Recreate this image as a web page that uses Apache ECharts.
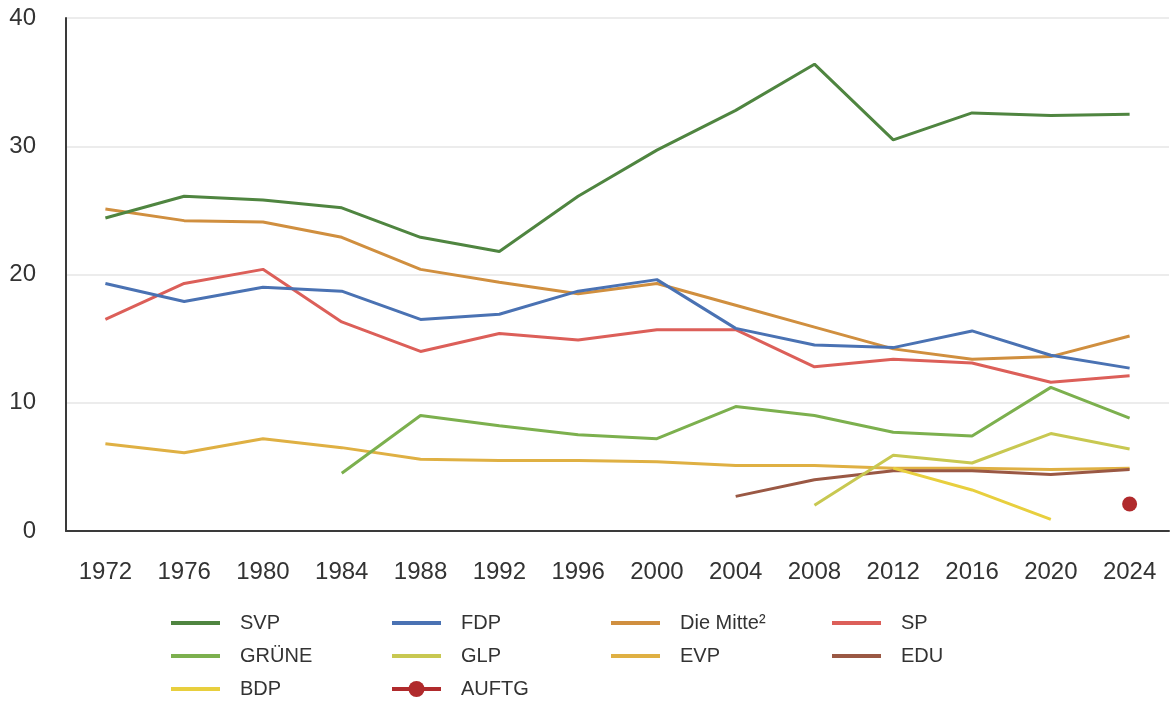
<!DOCTYPE html>
<html>
<head>
<meta charset="utf-8">
<script src="https://cdn.jsdelivr.net/npm/echarts@6/dist/echarts.min.js"></script>
<style>html,body{margin:0;padding:0;background:#fff}#c{width:1174px;height:702px}</style>
</head>
<body>
<div id="c"></div>
<script>
const years = ['1972','1976','1980','1984','1988','1992','1996','2000','2004','2008','2012','2016','2020','2024'];
const yTicks = [0, 10, 20, 30, 40];
const SVP   = [24.4, 26.1, 25.8, 25.2, 22.9, 21.8, 26.1, 29.7, 32.8, 36.4, 30.5, 32.6, 32.4, 32.5];
const FDP   = [19.3, 17.9, 19.0, 18.7, 16.5, 16.9, 18.7, 19.6, 15.8, 14.5, 14.3, 15.6, 13.7, 12.7];
const MITTE = [25.1, 24.2, 24.1, 22.9, 20.4, 19.4, 18.5, 19.3, 17.6, 15.9, 14.2, 13.4, 13.6, 15.2];
const SP    = [16.5, 19.3, 20.4, 16.3, 14.0, 15.4, 14.9, 15.7, 15.7, 12.8, 13.4, 13.1, 11.6, 12.1];
const GRUENE= [null, null, null, 4.5, 9.0, 8.2, 7.5, 7.2, 9.7, 9.0, 7.7, 7.4, 11.2, 8.8];
const GLP   = [null, null, null, null, null, null, null, null, null, 2.0, 5.9, 5.3, 7.6, 6.4];
const EVP   = [6.8, 6.1, 7.2, 6.5, 5.6, 5.5, 5.5, 5.4, 5.1, 5.1, 4.9, 4.9, 4.8, 4.9];
const EDU   = [null, null, null, null, null, null, null, null, 2.7, 4.0, 4.7, 4.7, 4.4, 4.8];
const BDP   = [null, null, null, null, null, null, null, null, null, null, 4.9, 3.2, 0.9, null];
const AUFTG = [null, null, null, null, null, null, null, null, null, null, null, null, null, 2.1];

const colors = {
  'SVP':'#4f8540', 'FDP':'#4a72b3', 'Die Mitte²':'#d08f3f', 'SP':'#dc5f59',
  'GRÜNE':'#7cb04e', 'GLP':'#c8c851', 'EVP':'#dfb043', 'EDU':'#9a5844',
  'BDP':'#e8cf3e', 'AUFTG':'#b02a2c'
};
const FONT = 'Liberation Sans, Arial, sans-serif';
function line(name, data) {
  return { name, type:'line', data, symbol:'none', connectNulls:false,
    lineStyle:{ width:3, color: colors[name] }, itemStyle:{ color: colors[name] },
    emphasis:{ disabled:true }, z: 2 };
}
const series = [
  line('EVP', EVP), line('EDU', EDU), line('BDP', BDP), line('GLP', GLP), line('GRÜNE', GRUENE),
  line('SP', SP), line('Die Mitte²', MITTE), line('FDP', FDP), line('SVP', SVP),
  { name:'AUFTG', type:'line', data:AUFTG, symbol:'circle', symbolSize:15,
    lineStyle:{ width:3, color: colors['AUFTG'] }, itemStyle:{ color: colors['AUFTG'] }, emphasis:{disabled:true} }
];
function legItem(name) {
  if (name === 'AUFTG') return { name };
  return { name, itemStyle:{ opacity:0 } };
}
function legend(left, names) {
  return {
    orient:'vertical', top:613, left, height:100, padding:0,
    itemWidth:49, itemHeight:20, itemGap:13, selectedMode:false,
    lineStyle:{ width:4 },
    textStyle:{ fontSize:20, color:'#333', fontFamily:FONT, padding:[0,0,0,15] },
    data: names.map(legItem)
  };
}
const chart = echarts.init(document.getElementById('c'));
chart.setOption({
  animation:false,
  grid:{ left:66, right:5, top:18, bottom:171 },
  xAxis:{ type:'category', data: years, boundaryGap:true,
    axisLine:{ lineStyle:{ color:'#3a3a3a', width:2 } }, axisTick:{ show:false },
    axisLabel:{ fontSize:24, color:'#333', margin:29, fontFamily:FONT } },
  yAxis:{ type:'value', min:yTicks[0], max:yTicks[yTicks.length-1], interval:10,
    axisLine:{ show:true, lineStyle:{ color:'#3a3a3a', width:2 } }, axisTick:{ show:false },
    splitLine:{ lineStyle:{ color:'#e6e6e6', width:1.5 } },
    axisLabel:{ fontSize:24, color:'#333', margin:30, fontFamily:FONT } },
  legend:[
    legend(169, ['SVP','GRÜNE','BDP']),
    legend(390, ['FDP','GLP','AUFTG']),
    legend(609, ['Die Mitte²','EVP']),
    legend(830, ['SP','EDU'])
  ],
  series
});
</script>
</body>
</html>
